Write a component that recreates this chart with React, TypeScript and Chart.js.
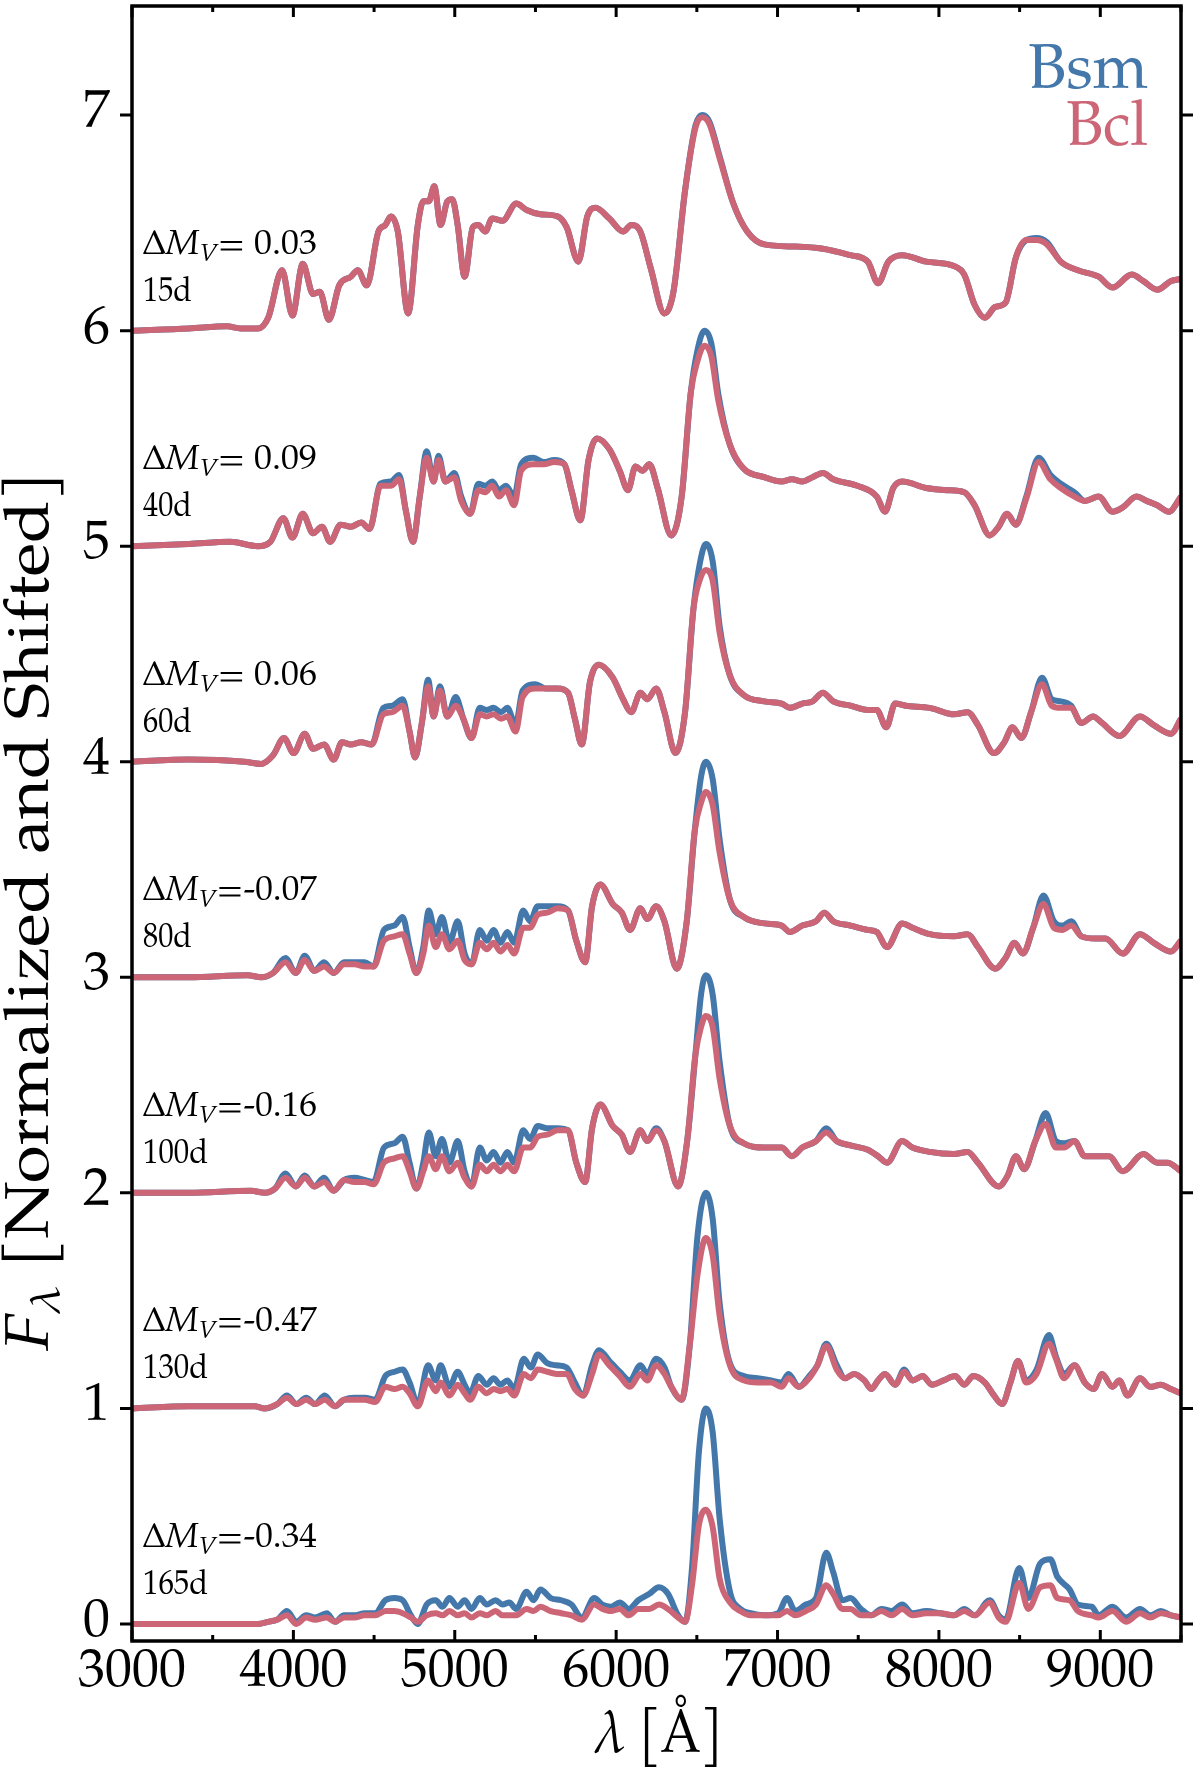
import { useEffect, useRef } from "react"
import { Chart, registerables } from "chart.js"

Chart.register(...registerables)

// wavelength grids (Å) and spectra, one pair of models per epoch, already offset
const wave15 = [3000, 3353, 3588, 3673, 3780, 3844, 3930, 3994, 4058, 4122, 4164, 4220, 4284, 4356, 4399, 4455, 4527, 4570, 4604, 4647, 4711, 4771, 4805, 4839, 4873, 4912, 4954, 4984, 5018, 5061, 5112, 5146, 5189, 5232, 5296, 5381, 5445, 5531, 5637, 5693, 5766, 5821, 5872, 5958, 6043, 6094, 6150, 6214, 6299, 6355, 6427, 6491, 6534, 6577, 6641, 6726, 6812, 6918, 7111, 7281, 7452, 7559, 7623, 7687, 7772, 7922, 8093, 8157, 8221, 8285, 8349, 8413, 8477, 8541, 8605, 8669, 8755, 8861, 8990, 9075, 9195, 9267, 9353, 9438, 9500]
const bsm15 = [6.00, 6.01, 6.02, 6.01, 6.01, 6.06, 6.28, 6.07, 6.31, 6.17, 6.18, 6.05, 6.21, 6.25, 6.28, 6.21, 6.46, 6.49, 6.53, 6.46, 6.08, 6.49, 6.60, 6.60, 6.67, 6.49, 6.60, 6.61, 6.49, 6.25, 6.48, 6.49, 6.46, 6.52, 6.51, 6.59, 6.56, 6.54, 6.53, 6.48, 6.32, 6.53, 6.57, 6.52, 6.46, 6.49, 6.46, 6.29, 6.08, 6.18, 6.65, 6.95, 7.00, 6.97, 6.81, 6.59, 6.46, 6.40, 6.39, 6.38, 6.35, 6.32, 6.22, 6.32, 6.35, 6.32, 6.30, 6.26, 6.12, 6.06, 6.11, 6.13, 6.34, 6.42, 6.43, 6.41, 6.32, 6.28, 6.25, 6.20, 6.26, 6.23, 6.19, 6.23, 6.24]
const bcl15 = [6.00, 6.01, 6.02, 6.01, 6.01, 6.06, 6.28, 6.07, 6.31, 6.17, 6.18, 6.05, 6.21, 6.25, 6.28, 6.21, 6.46, 6.49, 6.53, 6.46, 6.08, 6.49, 6.60, 6.60, 6.67, 6.49, 6.60, 6.61, 6.49, 6.25, 6.48, 6.49, 6.46, 6.52, 6.51, 6.59, 6.56, 6.54, 6.53, 6.48, 6.32, 6.53, 6.57, 6.52, 6.46, 6.49, 6.46, 6.29, 6.08, 6.18, 6.65, 6.94, 6.99, 6.96, 6.80, 6.59, 6.46, 6.40, 6.39, 6.38, 6.35, 6.32, 6.22, 6.32, 6.35, 6.32, 6.30, 6.26, 6.12, 6.06, 6.11, 6.13, 6.34, 6.42, 6.42, 6.40, 6.32, 6.28, 6.25, 6.20, 6.26, 6.23, 6.19, 6.23, 6.24]

const wave40 = [3000, 3353, 3609, 3780, 3857, 3938, 3994, 4058, 4122, 4177, 4228, 4292, 4356, 4420, 4472, 4540, 4604, 4655, 4698, 4741, 4783, 4826, 4869, 4899, 4942, 4997, 5040, 5095, 5146, 5189, 5232, 5275, 5317, 5368, 5411, 5488, 5552, 5616, 5680, 5723, 5778, 5829, 5881, 5958, 6022, 6073, 6120, 6163, 6206, 6257, 6342, 6406, 6462, 6504, 6547, 6590, 6632, 6705, 6790, 6918, 7025, 7089, 7153, 7217, 7281, 7345, 7495, 7615, 7666, 7717, 7772, 7922, 8050, 8157, 8221, 8315, 8370, 8422, 8477, 8541, 8618, 8691, 8755, 8840, 8904, 8990, 9075, 9139, 9224, 9288, 9353, 9425, 9500]
const bsm40 = [5.00, 5.01, 5.02, 5.00, 5.02, 5.13, 5.04, 5.15, 5.06, 5.09, 5.02, 5.10, 5.09, 5.11, 5.08, 5.29, 5.30, 5.33, 5.16, 5.02, 5.23, 5.44, 5.30, 5.42, 5.30, 5.34, 5.23, 5.15, 5.29, 5.28, 5.30, 5.26, 5.28, 5.23, 5.38, 5.41, 5.39, 5.40, 5.38, 5.26, 5.12, 5.40, 5.50, 5.45, 5.35, 5.26, 5.37, 5.35, 5.38, 5.27, 5.05, 5.23, 5.71, 5.91, 6.00, 5.94, 5.71, 5.47, 5.36, 5.32, 5.30, 5.31, 5.30, 5.32, 5.34, 5.31, 5.28, 5.23, 5.16, 5.27, 5.30, 5.27, 5.26, 5.25, 5.19, 5.05, 5.09, 5.15, 5.10, 5.23, 5.41, 5.33, 5.29, 5.25, 5.21, 5.23, 5.16, 5.18, 5.23, 5.21, 5.19, 5.16, 5.23]
const bcl40 = [5.00, 5.01, 5.02, 5.00, 5.02, 5.13, 5.04, 5.15, 5.06, 5.09, 5.02, 5.10, 5.09, 5.11, 5.08, 5.28, 5.28, 5.31, 5.16, 5.02, 5.23, 5.41, 5.30, 5.40, 5.30, 5.32, 5.21, 5.15, 5.26, 5.25, 5.28, 5.23, 5.26, 5.19, 5.35, 5.38, 5.38, 5.39, 5.38, 5.26, 5.12, 5.40, 5.50, 5.45, 5.35, 5.26, 5.37, 5.35, 5.38, 5.27, 5.05, 5.23, 5.71, 5.86, 5.93, 5.88, 5.68, 5.47, 5.36, 5.32, 5.30, 5.31, 5.30, 5.32, 5.34, 5.31, 5.28, 5.23, 5.16, 5.27, 5.30, 5.27, 5.26, 5.25, 5.19, 5.05, 5.09, 5.15, 5.10, 5.22, 5.39, 5.31, 5.27, 5.23, 5.21, 5.23, 5.16, 5.18, 5.23, 5.21, 5.19, 5.16, 5.23]

const wave60 = [3000, 3353, 3695, 3801, 3874, 3942, 4002, 4070, 4122, 4190, 4250, 4301, 4356, 4420, 4485, 4557, 4613, 4677, 4720, 4754, 4796, 4835, 4869, 4908, 4954, 5006, 5053, 5104, 5155, 5198, 5240, 5287, 5326, 5377, 5420, 5501, 5561, 5637, 5702, 5744, 5787, 5838, 5894, 5979, 6043, 6094, 6150, 6193, 6248, 6299, 6368, 6427, 6479, 6521, 6556, 6598, 6641, 6705, 6790, 6918, 7025, 7077, 7153, 7217, 7281, 7345, 7452, 7559, 7615, 7674, 7729, 7794, 7943, 8093, 8178, 8242, 8341, 8405, 8456, 8511, 8571, 8639, 8699, 8755, 8819, 8883, 8955, 9011, 9118, 9246, 9331, 9438, 9500]
const bsm60 = [4.00, 4.01, 4.00, 3.99, 4.03, 4.11, 4.04, 4.13, 4.06, 4.08, 4.01, 4.09, 4.08, 4.09, 4.08, 4.25, 4.26, 4.29, 4.14, 4.02, 4.18, 4.38, 4.21, 4.35, 4.21, 4.30, 4.20, 4.11, 4.25, 4.24, 4.25, 4.23, 4.25, 4.17, 4.33, 4.36, 4.34, 4.34, 4.32, 4.20, 4.08, 4.37, 4.45, 4.39, 4.29, 4.23, 4.32, 4.29, 4.34, 4.23, 4.04, 4.23, 4.71, 4.93, 5.01, 4.93, 4.63, 4.40, 4.31, 4.28, 4.27, 4.25, 4.27, 4.28, 4.32, 4.28, 4.26, 4.24, 4.24, 4.16, 4.27, 4.26, 4.25, 4.22, 4.23, 4.17, 4.04, 4.09, 4.16, 4.11, 4.23, 4.39, 4.29, 4.28, 4.26, 4.18, 4.21, 4.18, 4.12, 4.21, 4.17, 4.13, 4.20]
const bcl60 = [4.00, 4.01, 4.00, 3.99, 4.03, 4.11, 4.04, 4.13, 4.06, 4.08, 4.01, 4.09, 4.08, 4.09, 4.08, 4.22, 4.23, 4.26, 4.14, 4.02, 4.18, 4.35, 4.21, 4.33, 4.21, 4.26, 4.20, 4.11, 4.22, 4.21, 4.22, 4.20, 4.21, 4.14, 4.30, 4.34, 4.34, 4.34, 4.32, 4.20, 4.08, 4.37, 4.45, 4.39, 4.29, 4.23, 4.32, 4.29, 4.34, 4.23, 4.04, 4.23, 4.71, 4.85, 4.89, 4.84, 4.60, 4.40, 4.31, 4.28, 4.27, 4.25, 4.27, 4.28, 4.32, 4.28, 4.26, 4.24, 4.24, 4.16, 4.27, 4.26, 4.25, 4.22, 4.23, 4.17, 4.04, 4.09, 4.16, 4.11, 4.23, 4.36, 4.26, 4.25, 4.25, 4.18, 4.21, 4.18, 4.12, 4.21, 4.17, 4.13, 4.20]

const wave80 = [3000, 3353, 3716, 3801, 3874, 3951, 4015, 4070, 4130, 4190, 4250, 4314, 4378, 4442, 4497, 4561, 4626, 4677, 4720, 4762, 4805, 4839, 4882, 4920, 4967, 5018, 5061, 5104, 5155, 5198, 5240, 5283, 5326, 5368, 5424, 5467, 5514, 5573, 5637, 5702, 5753, 5808, 5851, 5902, 5979, 6035, 6086, 6150, 6193, 6248, 6299, 6376, 6436, 6487, 6526, 6556, 6598, 6641, 6705, 6790, 6918, 7025, 7077, 7153, 7238, 7290, 7345, 7452, 7559, 7615, 7678, 7772, 7836, 7943, 8093, 8178, 8242, 8349, 8413, 8468, 8520, 8584, 8648, 8712, 8767, 8819, 8883, 8968, 9032, 9139, 9246, 9331, 9438, 9500]
const bsm80 = [3.00, 3.00, 3.01, 3.00, 3.02, 3.09, 3.02, 3.10, 3.03, 3.07, 3.02, 3.07, 3.07, 3.07, 3.05, 3.22, 3.24, 3.28, 3.14, 3.02, 3.14, 3.31, 3.20, 3.28, 3.16, 3.26, 3.11, 3.06, 3.22, 3.17, 3.22, 3.16, 3.21, 3.16, 3.31, 3.26, 3.33, 3.33, 3.33, 3.31, 3.17, 3.07, 3.33, 3.43, 3.34, 3.30, 3.22, 3.32, 3.27, 3.33, 3.26, 3.04, 3.25, 3.68, 3.93, 4.00, 3.92, 3.64, 3.36, 3.28, 3.25, 3.24, 3.21, 3.24, 3.26, 3.30, 3.26, 3.24, 3.22, 3.21, 3.14, 3.25, 3.23, 3.20, 3.19, 3.20, 3.14, 3.04, 3.09, 3.16, 3.11, 3.23, 3.38, 3.26, 3.24, 3.26, 3.19, 3.18, 3.18, 3.11, 3.20, 3.16, 3.12, 3.17]
const bcl80 = [3.00, 3.00, 3.01, 3.00, 3.02, 3.07, 3.02, 3.08, 3.03, 3.05, 3.02, 3.06, 3.06, 3.05, 3.05, 3.17, 3.19, 3.20, 3.11, 3.02, 3.11, 3.24, 3.14, 3.20, 3.13, 3.17, 3.08, 3.06, 3.16, 3.13, 3.16, 3.12, 3.15, 3.11, 3.23, 3.23, 3.29, 3.30, 3.32, 3.31, 3.17, 3.07, 3.33, 3.43, 3.34, 3.30, 3.22, 3.32, 3.27, 3.33, 3.26, 3.04, 3.25, 3.68, 3.81, 3.86, 3.80, 3.58, 3.36, 3.28, 3.25, 3.24, 3.21, 3.24, 3.26, 3.30, 3.26, 3.24, 3.22, 3.21, 3.14, 3.25, 3.23, 3.20, 3.19, 3.20, 3.14, 3.04, 3.09, 3.16, 3.11, 3.23, 3.34, 3.23, 3.22, 3.24, 3.19, 3.18, 3.18, 3.11, 3.20, 3.16, 3.12, 3.17]

const wave100 = [3000, 3353, 3737, 3823, 3887, 3951, 4015, 4070, 4130, 4190, 4250, 4314, 4378, 4442, 4497, 4561, 4626, 4677, 4720, 4762, 4805, 4839, 4882, 4920, 4967, 5018, 5061, 5104, 5155, 5198, 5240, 5283, 5326, 5368, 5424, 5467, 5514, 5573, 5637, 5702, 5753, 5808, 5851, 5902, 5979, 6035, 6086, 6150, 6193, 6248, 6299, 6384, 6440, 6491, 6526, 6556, 6598, 6641, 6705, 6790, 6918, 7025, 7089, 7153, 7238, 7302, 7367, 7452, 7559, 7623, 7678, 7772, 7836, 7943, 8093, 8178, 8242, 8370, 8426, 8477, 8528, 8597, 8661, 8725, 8776, 8840, 8904, 8990, 9054, 9139, 9267, 9353, 9417, 9500]
const bsm100 = [2.00, 2.00, 2.01, 2.00, 2.02, 2.09, 2.03, 2.08, 2.03, 2.07, 2.01, 2.06, 2.07, 2.06, 2.05, 2.21, 2.23, 2.26, 2.14, 2.02, 2.14, 2.28, 2.17, 2.25, 2.14, 2.24, 2.10, 2.03, 2.21, 2.15, 2.19, 2.14, 2.19, 2.14, 2.29, 2.25, 2.31, 2.30, 2.30, 2.29, 2.14, 2.05, 2.30, 2.41, 2.31, 2.27, 2.19, 2.29, 2.24, 2.30, 2.24, 2.03, 2.24, 2.64, 2.92, 3.01, 2.92, 2.61, 2.31, 2.23, 2.21, 2.21, 2.17, 2.21, 2.24, 2.30, 2.24, 2.22, 2.20, 2.17, 2.14, 2.24, 2.21, 2.19, 2.18, 2.19, 2.14, 2.03, 2.08, 2.17, 2.11, 2.24, 2.37, 2.24, 2.23, 2.24, 2.17, 2.17, 2.17, 2.10, 2.18, 2.14, 2.14, 2.10]
const bcl100 = [2.00, 2.00, 2.01, 2.00, 2.02, 2.07, 2.03, 2.07, 2.03, 2.05, 2.01, 2.06, 2.05, 2.05, 2.04, 2.14, 2.16, 2.17, 2.10, 2.02, 2.10, 2.17, 2.11, 2.17, 2.10, 2.14, 2.07, 2.03, 2.13, 2.10, 2.13, 2.10, 2.13, 2.10, 2.21, 2.21, 2.26, 2.27, 2.29, 2.29, 2.14, 2.05, 2.30, 2.41, 2.31, 2.27, 2.19, 2.29, 2.24, 2.29, 2.24, 2.03, 2.24, 2.64, 2.77, 2.82, 2.77, 2.53, 2.31, 2.23, 2.21, 2.21, 2.17, 2.21, 2.24, 2.28, 2.24, 2.22, 2.20, 2.17, 2.14, 2.24, 2.21, 2.19, 2.18, 2.19, 2.14, 2.03, 2.08, 2.17, 2.11, 2.24, 2.32, 2.21, 2.21, 2.24, 2.17, 2.17, 2.17, 2.10, 2.18, 2.14, 2.14, 2.10]

const wave130 = [3000, 3353, 3759, 3823, 3900, 3960, 4019, 4079, 4134, 4194, 4258, 4314, 4378, 4442, 4506, 4570, 4626, 4677, 4720, 4771, 4835, 4882, 4912, 4967, 5018, 5061, 5095, 5146, 5198, 5240, 5283, 5326, 5368, 5428, 5471, 5514, 5573, 5629, 5693, 5744, 5795, 5851, 5894, 5958, 6022, 6086, 6150, 6193, 6248, 6299, 6342, 6406, 6457, 6504, 6556, 6598, 6641, 6705, 6790, 6876, 6961, 7025, 7068, 7132, 7196, 7247, 7302, 7367, 7418, 7474, 7538, 7580, 7623, 7666, 7729, 7785, 7836, 7900, 7956, 8029, 8101, 8157, 8212, 8285, 8341, 8392, 8443, 8490, 8541, 8605, 8682, 8725, 8776, 8840, 8904, 8959, 9011, 9075, 9118, 9169, 9246, 9310, 9374, 9438, 9500]
const bsm130 = [1.00, 1.01, 1.01, 1.00, 1.02, 1.06, 1.02, 1.05, 1.02, 1.06, 1.01, 1.04, 1.05, 1.05, 1.04, 1.15, 1.17, 1.18, 1.12, 1.02, 1.20, 1.13, 1.20, 1.10, 1.17, 1.11, 1.07, 1.15, 1.11, 1.14, 1.11, 1.13, 1.09, 1.23, 1.19, 1.25, 1.21, 1.20, 1.19, 1.12, 1.06, 1.20, 1.27, 1.22, 1.17, 1.13, 1.20, 1.16, 1.23, 1.19, 1.10, 1.04, 1.30, 1.80, 2.00, 1.88, 1.49, 1.21, 1.15, 1.14, 1.13, 1.12, 1.16, 1.10, 1.15, 1.20, 1.30, 1.20, 1.14, 1.16, 1.13, 1.09, 1.13, 1.16, 1.11, 1.18, 1.13, 1.15, 1.11, 1.13, 1.15, 1.11, 1.15, 1.12, 1.06, 1.02, 1.12, 1.22, 1.13, 1.18, 1.34, 1.24, 1.16, 1.20, 1.12, 1.09, 1.16, 1.10, 1.13, 1.06, 1.14, 1.10, 1.11, 1.09, 1.07]
const bcl130 = [1.00, 1.01, 1.01, 1.00, 1.02, 1.05, 1.02, 1.04, 1.02, 1.04, 1.01, 1.04, 1.04, 1.04, 1.03, 1.10, 1.09, 1.10, 1.07, 1.01, 1.13, 1.08, 1.12, 1.06, 1.11, 1.07, 1.04, 1.10, 1.07, 1.09, 1.08, 1.09, 1.06, 1.16, 1.14, 1.18, 1.17, 1.16, 1.16, 1.09, 1.06, 1.16, 1.25, 1.20, 1.15, 1.10, 1.16, 1.13, 1.20, 1.16, 1.10, 1.04, 1.30, 1.62, 1.79, 1.71, 1.43, 1.20, 1.13, 1.12, 1.12, 1.10, 1.14, 1.10, 1.14, 1.20, 1.29, 1.18, 1.14, 1.16, 1.13, 1.09, 1.13, 1.16, 1.11, 1.17, 1.13, 1.15, 1.11, 1.13, 1.15, 1.11, 1.15, 1.12, 1.06, 1.02, 1.12, 1.22, 1.12, 1.16, 1.30, 1.23, 1.14, 1.20, 1.12, 1.09, 1.16, 1.10, 1.13, 1.06, 1.14, 1.10, 1.11, 1.09, 1.07]

const wave165 = [3000, 3353, 3780, 3844, 3900, 3960, 4019, 4079, 4134, 4207, 4258, 4314, 4378, 4442, 4506, 4570, 4626, 4677, 4728, 4771, 4826, 4882, 4924, 4967, 5018, 5061, 5104, 5155, 5198, 5253, 5296, 5338, 5381, 5445, 5488, 5531, 5595, 5659, 5723, 5787, 5864, 5915, 5967, 6022, 6078, 6137, 6206, 6265, 6321, 6384, 6427, 6470, 6513, 6556, 6598, 6641, 6705, 6769, 6833, 6918, 7004, 7059, 7110, 7175, 7238, 7302, 7345, 7401, 7452, 7516, 7580, 7644, 7708, 7772, 7836, 7922, 8007, 8093, 8157, 8221, 8315, 8370, 8413, 8498, 8554, 8627, 8691, 8733, 8810, 8861, 8947, 8990, 9075, 9160, 9246, 9310, 9374, 9438, 9500]
const bsm165 = [0.00, 0.00, 0.00, 0.01, 0.02, 0.06, 0.01, 0.04, 0.03, 0.05, 0.01, 0.04, 0.04, 0.05, 0.05, 0.11, 0.12, 0.11, 0.04, 0.00, 0.09, 0.11, 0.08, 0.12, 0.08, 0.11, 0.07, 0.12, 0.09, 0.11, 0.09, 0.10, 0.07, 0.15, 0.11, 0.16, 0.12, 0.11, 0.09, 0.03, 0.12, 0.09, 0.08, 0.10, 0.07, 0.11, 0.14, 0.17, 0.14, 0.04, 0.01, 0.26, 0.80, 1.00, 0.89, 0.49, 0.15, 0.07, 0.05, 0.04, 0.05, 0.12, 0.06, 0.09, 0.12, 0.33, 0.24, 0.11, 0.12, 0.07, 0.04, 0.07, 0.06, 0.09, 0.05, 0.06, 0.05, 0.04, 0.07, 0.04, 0.11, 0.04, 0.02, 0.26, 0.12, 0.28, 0.30, 0.22, 0.16, 0.09, 0.08, 0.04, 0.08, 0.03, 0.07, 0.04, 0.06, 0.04, 0.03]
const bcl165 = [0.00, 0.00, 0.00, 0.01, 0.02, 0.04, 0.00, 0.03, 0.02, 0.03, 0.01, 0.03, 0.03, 0.04, 0.04, 0.06, 0.06, 0.05, 0.03, 0.01, 0.04, 0.05, 0.04, 0.06, 0.04, 0.05, 0.03, 0.05, 0.04, 0.06, 0.04, 0.04, 0.04, 0.07, 0.06, 0.08, 0.06, 0.05, 0.04, 0.02, 0.09, 0.07, 0.06, 0.07, 0.04, 0.07, 0.07, 0.09, 0.07, 0.03, 0.01, 0.18, 0.46, 0.53, 0.45, 0.21, 0.10, 0.06, 0.04, 0.04, 0.04, 0.06, 0.04, 0.06, 0.09, 0.18, 0.14, 0.07, 0.07, 0.04, 0.04, 0.06, 0.04, 0.07, 0.04, 0.05, 0.05, 0.04, 0.06, 0.04, 0.10, 0.03, 0.01, 0.19, 0.07, 0.17, 0.18, 0.12, 0.11, 0.06, 0.04, 0.03, 0.06, 0.01, 0.05, 0.03, 0.05, 0.04, 0.03]

const epochLabels = ["15d", "40d", "60d", "80d", "100d", "130d", "165d"]
const deltaMV = [0.03, 0.09, 0.06, -0.07, -0.16, -0.47, -0.34]
const offsets = [6, 5, 4, 3, 2, 1, 0]
const xTickValues = [3000, 4000, 5000, 6000, 7000, 8000, 9000]
const yTickValues = [0, 1, 2, 3, 4, 5, 6, 7]

const BLUE = "#4477aa"
const PINK = "#cc6677"

const spectra = [
  { wave: wave15, bsm: bsm15, bcl: bcl15 },
  { wave: wave40, bsm: bsm40, bcl: bcl40 },
  { wave: wave60, bsm: bsm60, bcl: bcl60 },
  { wave: wave80, bsm: bsm80, bcl: bcl80 },
  { wave: wave100, bsm: bsm100, bcl: bcl100 },
  { wave: wave130, bsm: bsm130, bcl: bcl130 },
  { wave: wave165, bsm: bsm165, bcl: bcl165 },
]

// pick a Palatino/Times-like face that the browser really has
function pickSerif() {
  const candidates = [
    "TeX Gyre Pagella", "P052", "URW Palladio L", "Palatino Linotype", "Palatino",
    "Book Antiqua", "Liberation Serif", "Tinos", "Times New Roman", "Nimbus Roman",
    "Nimbus Roman No9 L", "FreeSerif", "Noto Serif", "Times",
  ]
  const c = document.createElement("canvas").getContext("2d")
  if (!c) return "serif"
  const probe = "mmmwwwlliiQ0123456789abcdefghij"
  const widthOf = (f: string) => {
    c.font = f
    return c.measureText(probe).width
  }
  const mono = widthOf("40px monospace")
  const sans = widthOf("40px sans-serif")
  for (const name of candidates) {
    const a = widthOf(`40px "${name}", monospace`)
    const b = widthOf(`40px "${name}", sans-serif`)
    if (a !== mono || b !== sans) return `"${name}", serif`
  }
  return '"DejaVu Serif", serif'
}

let SERIF = "serif"

type Run = { text: string; font: string; dy?: number }

function runsWidth(ctx: CanvasRenderingContext2D, runs: Run[]) {
  let w = 0
  for (const r of runs) {
    ctx.font = r.font
    w += ctx.measureText(r.text).width
  }
  return w
}

function drawRuns(ctx: CanvasRenderingContext2D, runs: Run[], x: number, y: number) {
  let cx = x
  for (const r of runs) {
    ctx.font = r.font
    ctx.fillText(r.text, cx, y + (r.dy || 0))
    cx += ctx.measureText(r.text).width
  }
}

// stretch a run of text to a target width
function drawFitted(ctx: CanvasRenderingContext2D, runs: Run[], x: number, y: number, target: number, align: string) {
  const w = runsWidth(ctx, runs)
  const k = target / w
  ctx.save()
  ctx.translate(x, y)
  ctx.scale(k, 1)
  const start = align === "right" ? -w : align === "center" ? -w / 2 : 0
  drawRuns(ctx, runs, start, 0)
  ctx.restore()
}

const overlay = {
  id: "overlay",
  afterDraw(chart: any) {
    const { ctx, chartArea: a } = chart
    const xs = chart.scales.x
    const ys = chart.scales.y
    ctx.save()
    ctx.strokeStyle = "#000"
    ctx.fillStyle = "#000"

    // frame
    ctx.lineWidth = 3.5
    ctx.strokeRect(a.left, a.top, a.right - a.left, a.bottom - a.top)

    // x ticks, inward, top and bottom
    ctx.lineWidth = 3
    for (let v = 3000; v <= 9500; v += 500) {
      const px = xs.getPixelForValue(v)
      const len = v % 1000 === 0 ? 11 : 6
      ctx.beginPath()
      ctx.moveTo(px, a.bottom)
      ctx.lineTo(px, a.bottom - len)
      ctx.moveTo(px, a.top)
      ctx.lineTo(px, a.top + len)
      ctx.stroke()
    }
    // y ticks, outward, left and right
    for (const v of yTickValues) {
      const py = ys.getPixelForValue(v)
      ctx.beginPath()
      ctx.moveTo(a.left - 12, py)
      ctx.lineTo(a.left, py)
      ctx.moveTo(a.right, py)
      ctx.lineTo(a.right + 12, py)
      ctx.stroke()
    }

    // annotations for each epoch
    ctx.textBaseline = "alphabetic"
    ctx.textAlign = "left"
    const fs = 34
    const lx = xs.getPixelForValue(3068)
    offsets.forEach((off, i) => {
      const base = ys.getPixelForValue(off)
      const d = deltaMV[i]
      const val = d >= 0 ? "= " + d.toFixed(2) : "=" + d.toFixed(2)
      const runs: Run[] = [
        { text: "Δ", font: `${fs}px ${SERIF}` },
        { text: "M", font: `italic ${fs}px ${SERIF}` },
        { text: "V", font: `italic ${Math.round(fs * 0.72)}px ${SERIF}`, dy: 7 },
        { text: val, font: `${fs}px ${SERIF}` },
      ]
      drawFitted(ctx, runs, lx, base - 77, 174, "left")
      const day = epochLabels[i]
      drawFitted(ctx, [{ text: day, font: `${fs}px ${SERIF}` }], lx, base - 30, day.length * 16.3, "left")
    })

    // legend text
    ctx.fillStyle = BLUE
    drawFitted(ctx, [{ text: "Bsm", font: `64px ${SERIF}` }], 1148, 88, 120, "right")
    ctx.fillStyle = PINK
    drawFitted(ctx, [{ text: "Bcl", font: `64px ${SERIF}` }], 1148, 145, 82, "right")

    // x axis title
    ctx.fillStyle = "#000"
    const xRuns: Run[] = [
      { text: "λ", font: `italic 60px ${SERIF}` },
      { text: " [Å]", font: `60px ${SERIF}` },
    ]
    drawFitted(ctx, xRuns, (a.left + a.right) / 2 + 3, 1752, 127, "center")

    // y axis title
    const yRuns: Run[] = [
      { text: "F", font: `italic 62px ${SERIF}` },
      { text: "λ", font: `italic 42px ${SERIF}`, dy: 11 },
      { text: " [Normalized and Shifted]", font: `62px ${SERIF}` },
    ]
    ctx.save()
    ctx.translate(48, 911)
    ctx.rotate(-Math.PI / 2)
    drawFitted(ctx, yRuns, 0, 0, 880, "center")
    ctx.restore()

    ctx.restore()
  },
}

export default function App() {
  const chartRef = useRef<HTMLCanvasElement>(null)
  const chartInstance = useRef<Chart | null>(null)

  useEffect(() => {
    document.body.style.margin = "0"
    if (!chartRef.current) return
    if (chartInstance.current) chartInstance.current.destroy()
    SERIF = pickSerif()

    const datasets: any[] = []
    spectra.forEach((s, i) => {
      datasets.push({
        label: "Bcl " + epochLabels[i],
        data: s.wave.map((w, j) => ({ x: w, y: s.bcl[j] })),
        borderColor: PINK,
        borderWidth: 6,
        pointRadius: 0,
        cubicInterpolationMode: "monotone",
        order: 1,
      })
      datasets.push({
        label: "Bsm " + epochLabels[i],
        data: s.wave.map((w, j) => ({ x: w, y: s.bsm[j] })),
        borderColor: BLUE,
        borderWidth: 6,
        pointRadius: 0,
        cubicInterpolationMode: "monotone",
        order: 2,
      })
    })

    const ctx = chartRef.current.getContext("2d")
    if (ctx) {
      chartInstance.current = new Chart(ctx, {
        type: "line",
        data: { datasets },
        options: {
          animation: false,
          responsive: false,
          devicePixelRatio: 1,
          layout: { padding: { top: 6, right: 19, left: 0, bottom: 0 } },
          plugins: { legend: { display: false }, tooltip: { enabled: false } },
          scales: {
            x: {
              type: "linear",
              min: 3000,
              max: 9500,
              grid: { display: false, drawTicks: false },
              border: { display: false },
              afterBuildTicks: (s: any) => {
                s.ticks = xTickValues.map((v) => ({ value: v }))
              },
              afterFit: (s: any) => {
                s.height = 133
                s.paddingLeft = 0
                s.paddingRight = 0
              },
              ticks: {
                color: "#000",
                padding: 6,
                maxRotation: 0,
                autoSkip: false,
                font: { family: SERIF, size: 54, lineHeight: 1 },
                callback: (v: any) => String(v),
              },
            },
            y: {
              type: "linear",
              min: -0.079,
              max: 7.506,
              grid: { display: false, drawTicks: false },
              border: { display: false },
              afterBuildTicks: (s: any) => {
                s.ticks = yTickValues.map((v) => ({ value: v }))
              },
              afterFit: (s: any) => {
                s.width = 132
                s.paddingTop = 0
                s.paddingBottom = 0
              },
              ticks: {
                color: "#000",
                padding: 22,
                autoSkip: false,
                font: { family: SERIF, size: 54, lineHeight: 1 },
                callback: (v: any) => String(v),
              },
            },
          },
        },
        plugins: [overlay],
      })
    }

    return () => {
      if (chartInstance.current) {
        chartInstance.current.destroy()
        chartInstance.current = null
      }
    }
  }, [])

  return (
    <div style={{ width: 1200, height: 1774 }}>
      <canvas ref={chartRef} width={1200} height={1774} style={{ display: "block" }} />
    </div>
  )
}
